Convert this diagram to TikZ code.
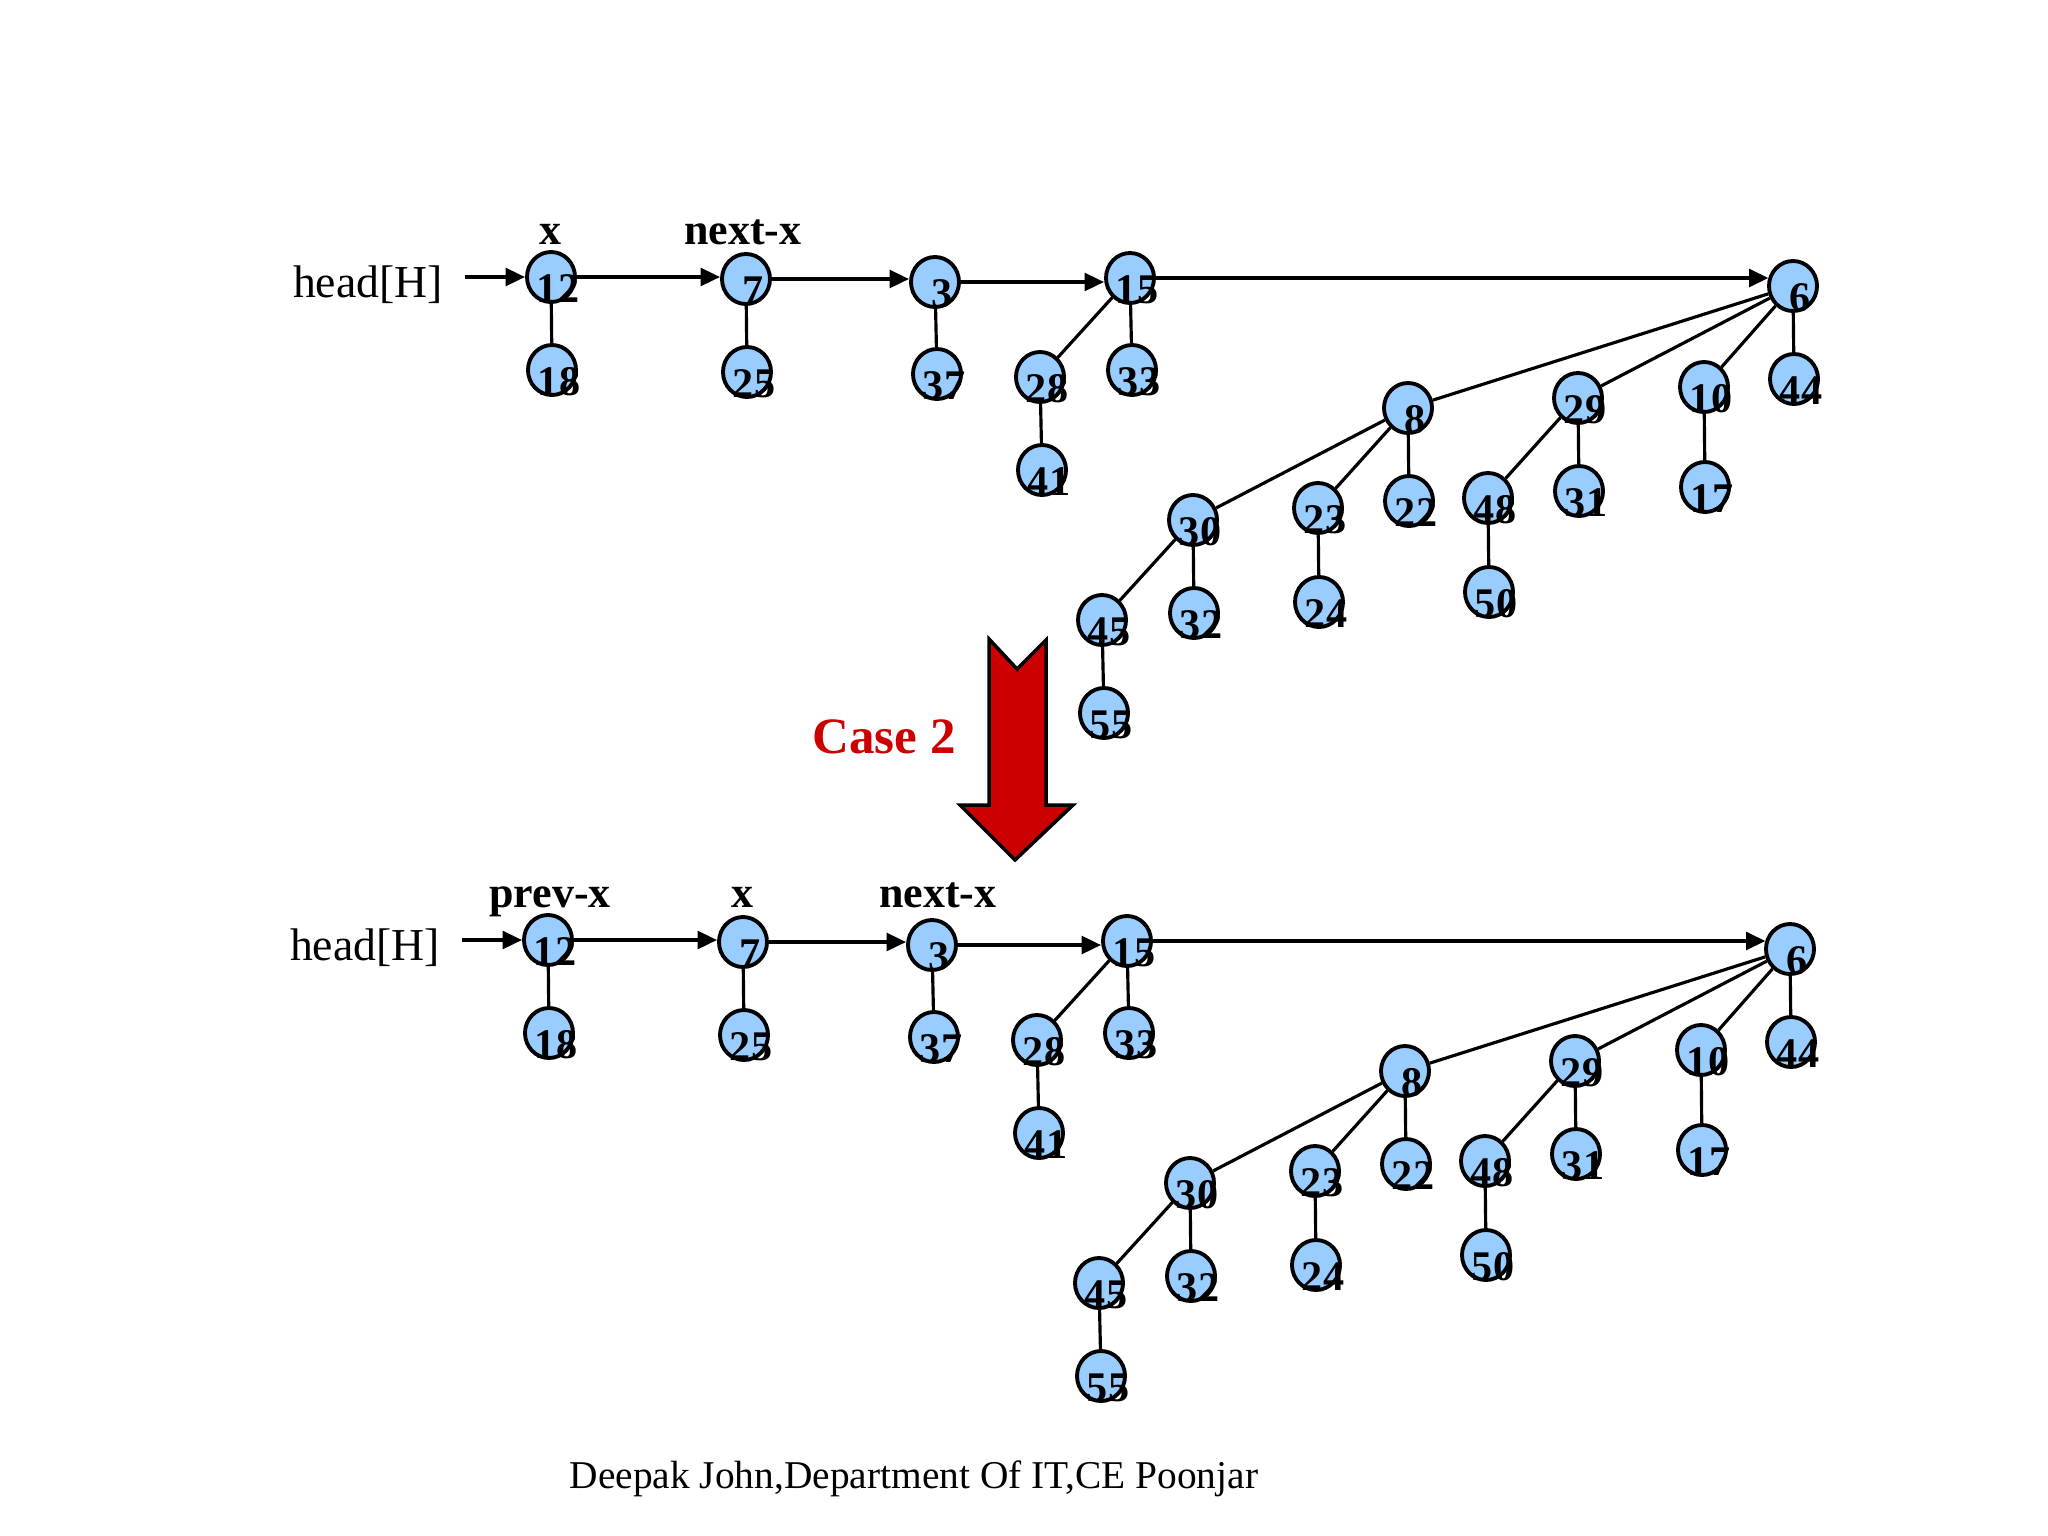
\documentclass[tikz,border=0pt]{standalone}
\usepackage{fontspec}
\setmainfont{Liberation Serif}
\usetikzlibrary{arrows.meta,shapes.geometric}
\definecolor{nodeblue}{RGB}{153,204,255}
\definecolor{casered}{RGB}{204,0,0}
\tikzset{
 hnode/.style={ellipse, draw=black, line width=1.1pt, fill=nodeblue, minimum width=0.48cm, minimum height=0.50cm, inner sep=0pt},
 num/.style={anchor=base, inner sep=0pt, font=\fontsize{12}{13}\selectfont\bfseries},
 lnk/.style={-{Triangle[length=5.5pt,width=5pt]}, line width=1pt},
 tedge/.style={line width=0.9pt},
 ptr/.style={anchor=base, inner sep=0pt, font=\fontsize{12.5}{14}\selectfont\bfseries},
 headlbl/.style={anchor=base, inner sep=0pt, font=\fontsize{13}{15}\selectfont},
}
\newcommand\heapnode[4]{%
 \node[hnode] (#1) at (#2,#3) {};
 \node[num] (#1-t) at ({#2+7},{#3+25}) {#4};}
\newcommand\hlink[2]{\draw[lnk] (#1.east) -- (#1.east -| #2.west);}
\newcommand\drawheap[1]{%
 \node[headlbl] (#1head) at (368,297) {head[H]};
 \coordinate (#1hs) at (465,277);
 \heapnode{#1n12}{551}{277}{12}
 \heapnode{#1n18}{552}{370}{18}
 \heapnode{#1n7}{746}{279}{7}
 \heapnode{#1n25}{747}{372}{25}
 \heapnode{#1n3}{935}{282}{3}
 \heapnode{#1n37}{937}{374}{37}
 \heapnode{#1n15}{1130}{278}{15}
 \heapnode{#1n28}{1040}{377}{28}
 \heapnode{#1n33}{1132}{370}{33}
 \heapnode{#1n41}{1042}{470}{41}
 \heapnode{#1n6}{1793}{286}{6}
 \heapnode{#1n8}{1408}{408}{8}
 \heapnode{#1n29}{1578}{398}{29}
 \heapnode{#1n10}{1704}{387}{10}
 \heapnode{#1n44}{1794}{379}{44}
 \heapnode{#1n30}{1193}{520}{30}
 \heapnode{#1n23}{1318}{508}{23}
 \heapnode{#1n22}{1409}{501}{22}
 \heapnode{#1n48}{1488}{498}{48}
 \heapnode{#1n31}{1579}{491}{31}
 \heapnode{#1n17}{1705}{487}{17}
 \heapnode{#1n45}{1102}{620}{45}
 \heapnode{#1n32}{1194}{613}{32}
 \heapnode{#1n24}{1319}{602}{24}
 \heapnode{#1n50}{1489}{592}{50}
 \heapnode{#1n55}{1104}{713}{55}
 \draw[lnk] (#1hs) -- (#1hs -| #1n12.west);
 \hlink{#1n12}{#1n7}
 \hlink{#1n7}{#1n3}
 \hlink{#1n3}{#1n15}
 \draw[lnk] (#1n15.east) -- ([xshift=0.4pt]#1n15.east -| #1n6.west);
 \draw[tedge] (#1n12) -- (#1n18);
 \draw[tedge] (#1n7) -- (#1n25);
 \draw[tedge] (#1n3) -- (#1n37);
 \draw[tedge] (#1n15) -- (#1n28);
 \draw[tedge] (#1n15) -- (#1n33);
 \draw[tedge] (#1n28) -- (#1n41);
 \draw[tedge] (#1n6) -- (#1n8);
 \draw[tedge] (#1n6) -- (#1n29);
 \draw[tedge] (#1n6) -- (#1n10);
 \draw[tedge] (#1n6) -- (#1n44);
 \draw[tedge] (#1n8) -- (#1n30);
 \draw[tedge] (#1n8) -- (#1n23);
 \draw[tedge] (#1n8) -- (#1n22);
 \draw[tedge] (#1n29) -- (#1n48);
 \draw[tedge] (#1n29) -- (#1n31);
 \draw[tedge] (#1n10) -- (#1n17);
 \draw[tedge] (#1n30) -- (#1n45);
 \draw[tedge] (#1n30) -- (#1n32);
 \draw[tedge] (#1n23) -- (#1n24);
 \draw[tedge] (#1n48) -- (#1n50);
 \draw[tedge] (#1n45) -- (#1n55);
}
\begin{document}
\begin{tikzpicture}[x=0.01cm, y=-0.01cm]
\useasboundingbox (0,0) rectangle (2048,1536);
\fill[white] (0,0) rectangle (2048,1536);
% top heap
\drawheap{t}
\node[ptr] (tlx) at (550,244) {x};
\node[ptr] (tlnx) at (743,244) {next-x};
% bottom heap
\begin{scope}[shift={(-3,663)}]
\drawheap{b}
\end{scope}
\node[ptr] (blpx) at (550,907) {prev-x};
\node[ptr] (blx) at (742,907) {x};
\node[ptr] (blnx) at (938,907) {next-x};
% case arrow
\draw[line width=1pt, fill=casered, line join=miter]
 (989,639) -- (1017,669) -- (1046,640) -- (1046,805) -- (1073,805)
 -- (1015,860) -- (960,805) -- (989,805) -- cycle;
\node[anchor=base, inner sep=0pt, text=casered, font=\fontsize{14.5}{16}\selectfont\bfseries] (case) at (884,753) {Case 2};
\node[anchor=base, inner sep=0pt, font=\fontsize{11.2}{13}\selectfont] (foot) at (914,1488) {Deepak John,Department Of IT,CE Poonjar};
\end{tikzpicture}
\end{document}
